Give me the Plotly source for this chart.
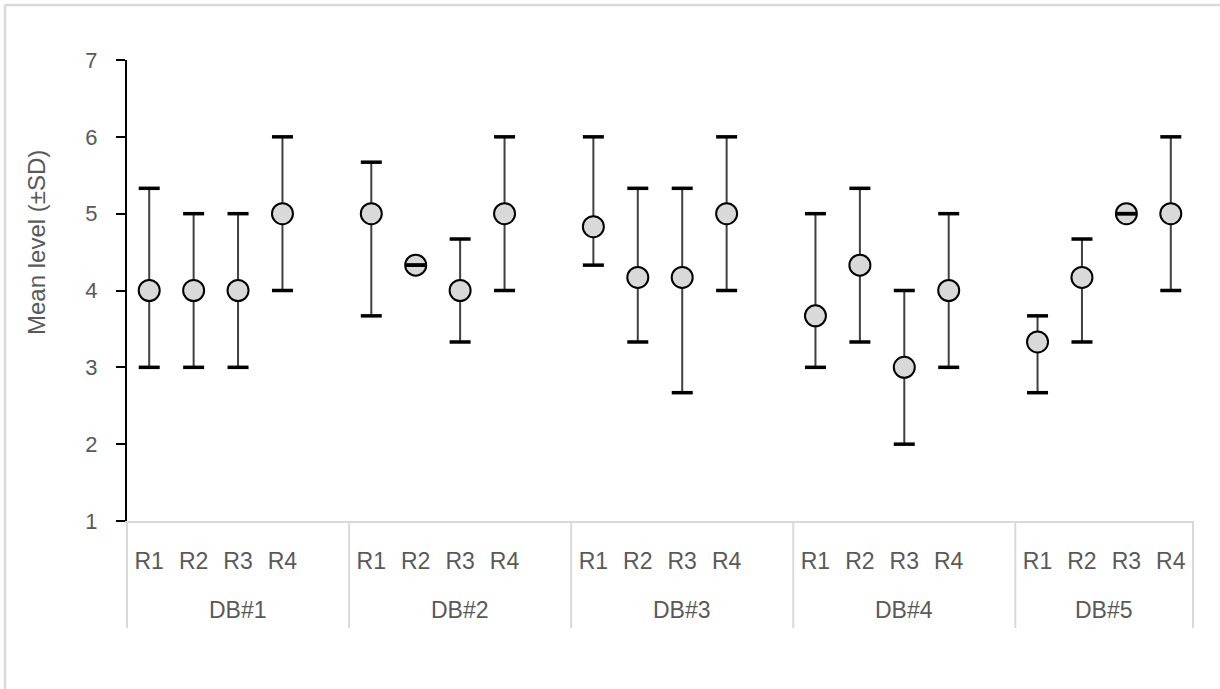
import plotly.graph_objects as go

groups = ["DB#1", "DB#2", "DB#3", "DB#4", "DB#5"]
rounds = ["R1", "R2", "R3", "R4"]

mean_vals = [
    [4.00, 4.00, 4.00, 5.00],
    [5.00, 4.33, 4.00, 5.00],
    [4.83, 4.17, 4.17, 5.00],
    [3.67, 4.33, 3.00, 4.00],
    [3.33, 4.17, 5.00, 5.00],
]
upper_vals = [
    [5.33, 5.00, 5.00, 6.00],
    [5.67, 4.33, 4.67, 6.00],
    [6.00, 5.33, 5.33, 6.00],
    [5.00, 5.33, 4.00, 5.00],
    [3.67, 4.67, 5.00, 6.00],
]
lower_vals = [
    [3.00, 3.00, 3.00, 4.00],
    [3.67, 4.33, 3.33, 4.00],
    [4.33, 3.33, 2.67, 4.00],
    [3.00, 3.33, 2.00, 3.00],
    [2.67, 3.33, 5.00, 4.00],
]

# layout constants (pixels)
W, H = 1220, 689
L, R, T, B = 127, 27, 60, 168
slots_per_group = 5
xmin, xmax = -0.5, 23.5
FONT = "Liberation Sans, Arial, sans-serif"
TXT = "#595959"

xs, ys, ups, los, labels = [], [], [], [], []
for g in range(len(groups)):
    for r in range(len(rounds)):
        xs.append(g * slots_per_group + r)
        ys.append(mean_vals[g][r])
        ups.append(upper_vals[g][r])
        los.append(lower_vals[g][r])
        labels.append(rounds[r])

err_plus = [u - m for u, m in zip(ups, ys)]
err_minus = [m - l for m, l in zip(ys, los)]

fig = go.Figure()
fig.add_trace(go.Scatter(
    x=xs, y=ys, mode="markers",
    marker=dict(symbol="circle", size=21, color="#d9d9d9",
                line=dict(color="black", width=2)),
    error_y=dict(type="data", symmetric=False, array=err_plus,
                 arrayminus=err_minus, thickness=2, width=0,
                 color="#404040"),
    hoverinfo="skip", showlegend=False,
))
# caps (drawn above markers, so zero-SD caps show inside the marker)
fig.add_trace(go.Scatter(
    x=xs + xs, y=ups + los, mode="markers",
    marker=dict(symbol="line-ew", size=15,
                line=dict(color="black", width=3.5)),
    hoverinfo="skip", showlegend=False,
))

plot_w = W - L - R
plot_h = H - T - B


def px_x(v):
    return (v - xmin) / (xmax - xmin)


def pix_to_py(py):
    return (H - B - py) / plot_h


def pix_to_px(px):
    return (px - L) / plot_w


shapes = []
line_col = "#d9d9d9"
bottom_y = pix_to_py(628)
boundaries = [g * slots_per_group - 0.5 for g in range(len(groups))] + [xmax]
for b in boundaries:
    shapes.append(dict(type="line", xref="paper", yref="paper",
                       x0=px_x(b), x1=px_x(b), y0=0, y1=bottom_y,
                       line=dict(color=line_col, width=2)))
# outer chart border (left and top edges visible)
bx = pix_to_px(5)
by = pix_to_py(5)
shapes.append(dict(type="line", xref="paper", yref="paper",
                   x0=bx, x1=bx, y0=by, y1=-1,
                   line=dict(color=line_col, width=2.5)))
shapes.append(dict(type="line", xref="paper", yref="paper",
                   x0=bx, x1=2, y0=by, y1=by,
                   line=dict(color=line_col, width=2.5)))

annotations = []
for g, name in enumerate(groups):
    n = len(rounds)
    cx = g * slots_per_group + (n if g == len(groups) - 1 else slots_per_group) / 2 - 0.5
    annotations.append(dict(text=name, x=cx, xref="x", y=pix_to_py(610),
                            yref="paper", showarrow=False, yanchor="middle",
                            font=dict(family=FONT, size=23, color=TXT)))
annotations.append(dict(text="Mean level (±SD)", textangle=-90,
                        x=pix_to_px(36), xref="paper", y=pix_to_py(243),
                        yref="paper", showarrow=False, xanchor="center",
                        yanchor="middle",
                        font=dict(family=FONT, size=24, color=TXT)))

fig.update_layout(
    width=W, height=H,
    margin=dict(l=L, r=R, t=T, b=B, autoexpand=False),
    paper_bgcolor="white", plot_bgcolor="white",
    font=dict(family=FONT, color=TXT),
    shapes=shapes, annotations=annotations,
    xaxis=dict(range=[xmin, xmax], tickvals=xs, ticktext=labels,
               showgrid=False, zeroline=False, showline=True,
               linecolor=line_col, linewidth=2, ticks="",
               ticklabelstandoff=18,
               tickfont=dict(family=FONT, size=23, color=TXT)),
    yaxis=dict(range=[1, 7], dtick=1, showgrid=False, zeroline=False,
               showline=True, linecolor="black", linewidth=2,
               ticks="outside", ticklen=9, tickwidth=2, tickcolor="black",
               ticklabelstandoff=14,
               tickfont=dict(family=FONT, size=22, color=TXT)),
)

fig.write_html("out.html", config={"displayModeBar": False},
               post_script="document.body.style.margin='0';")
